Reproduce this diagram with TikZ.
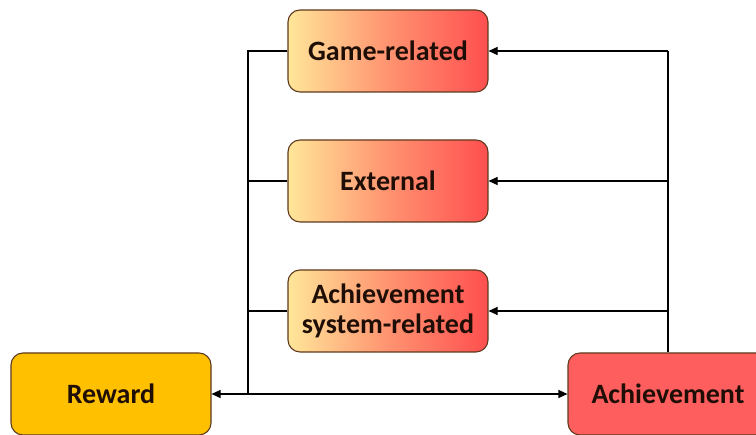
\documentclass[tikz,border=0pt]{standalone}
\usepackage{fontspec}
\setmainfont{Carlito}
\usetikzlibrary{arrows.meta}
\definecolor{gradL}{HTML}{FFE699}
\definecolor{gradR}{HTML}{FF4F4F}
\definecolor{rewardfill}{HTML}{FFC000}
\definecolor{achfill}{HTML}{FF5E5E}
\definecolor{edgebrown}{HTML}{5E3A1E}
\definecolor{txt}{HTML}{1E0E05}
\tikzset{
  box/.style={rectangle, rounded corners=12pt, draw=edgebrown, line width=1.1pt,
    minimum width=200pt, minimum height=82pt, align=center, text=txt,
    font=\fontsize{28}{31}\selectfont\bfseries, inner sep=2pt},
  gradbox/.style={box, left color=gradL, right color=gradR, middle color=gradL!45!gradR},
  link/.style={line width=1.1pt, draw=black},
  arr/.style={link, -{Triangle[length=9pt,width=8pt]}}
}
\begin{document}
\begin{tikzpicture}[x=1pt,y=1pt]
\useasboundingbox (0,0) rectangle (756,435);
\clip (0,0) rectangle (756,435);
\fill[white] (0,0) rectangle (756,435);

% category boxes
\node[gradbox] (game) at (388,384) {Game-related};
\node[gradbox] (ext)  at (388,254) {External};
\node[gradbox] (sys)  at (388,124) {Achievement\\[-1pt]system-related};

% end points
\node[box, fill=rewardfill] (reward) at (111,41) {Reward};
\node[box, fill=achfill] (ach) at (668,41) {Achievement};

% branching points of the trunk lines
\coordinate (lt) at (248,384);
\coordinate (lb) at (248,41);
\coordinate (r1) at (668,384);
\coordinate (r2) at (668,254);
\coordinate (r3) at (668,124);

% left trunk: boxes collect into Reward and feed Achievement
\draw[link] (game.west) -- (lt) -- (lb);
\draw[link] (ext.west) -- (ext.west -| lt);
\draw[link] (sys.west) -- (sys.west -| lt);
\draw[arr] (lb) -- (reward.east);
\draw[arr] (lb) -- (ach.west);

% right trunk: Achievement back to the boxes
\draw[link] (ach.north) -- (r1);
\draw[arr] (r1) -- (game.east);
\draw[arr] (r2) -- (ext.east);
\draw[arr] (r3) -- (sys.east);
\end{tikzpicture}
\end{document}
